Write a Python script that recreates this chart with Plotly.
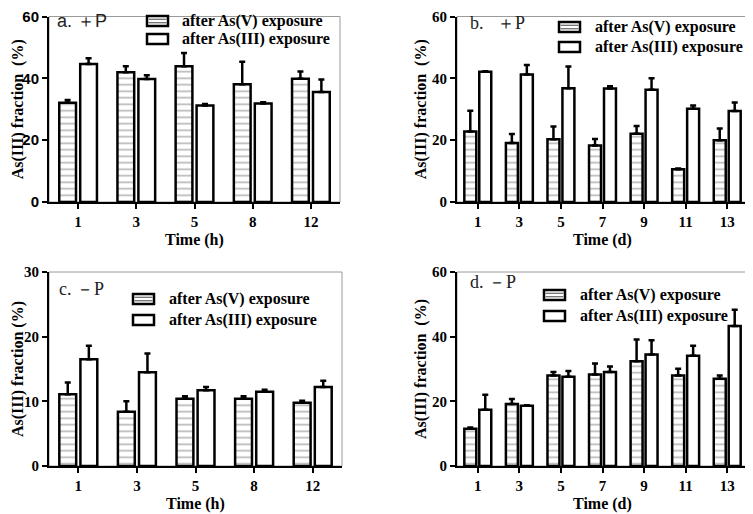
import plotly.graph_objects as go
from plotly.subplots import make_subplots

# the page body adds an 8px margin, so the figure is 8px smaller and all
# pixel positions below are given in window coordinates
OFF = 8
W, H = 753 - OFF, 514 - OFF


def px(x):
    return (x - OFF) / W


def py(y):
    return 1 - (y - OFF) / H


# categories
time_h = ["1", "3", "5", "8", "12"]
time_d = ["1", "3", "5", "7", "9", "11", "13"]

# a. +P, hours
a_asv = [32.1, 42.0, 43.9, 38.1, 39.9]
a_asv_err = [0.9, 1.9, 4.3, 7.3, 2.3]
a_as3 = [44.6, 39.8, 31.2, 31.9, 35.6]
a_as3_err = [1.9, 1.2, 0.5, 0.4, 4.0]

# b. +P, days
b_asv = [22.8, 19.1, 20.3, 18.3, 22.1, 10.6, 20.0]
b_asv_err = [6.7, 2.9, 4.1, 2.1, 2.5, 0.2, 3.8]
b_as3 = [42.1, 41.2, 36.8, 36.7, 36.3, 30.2, 29.4]
b_as3_err = [0.2, 3.1, 7.0, 0.7, 3.7, 1.0, 2.8]

# c. -P, hours
c_asv = [11.1, 8.4, 10.4, 10.4, 9.8]
c_asv_err = [1.8, 1.6, 0.4, 0.4, 0.3]
c_as3 = [16.5, 14.5, 11.7, 11.5, 12.2]
c_as3_err = [2.1, 2.9, 0.5, 0.3, 1.0]

# d. -P, days
d_asv = [11.5, 19.2, 28.0, 28.3, 32.4, 28.0, 27.0]
d_asv_err = [0.4, 1.5, 1.1, 3.4, 6.7, 2.1, 1.0]
d_as3 = [17.4, 18.6, 27.6, 29.1, 34.5, 34.1, 43.3]
d_as3_err = [4.6, 0.2, 1.8, 1.7, 4.4, 3.1, 5.0]

series_names = ["after As(V) exposure", "after As(III) exposure"]

SERIF = "Liberation Serif"
SANS = "Liberation Sans"
STRIPE = "#6e6e6e"

panels = [
    dict(x=time_h, v=a_asv, ve=a_asv_err, t=a_as3, te=a_as3_err, box=(49, 340, 16.5, 202),
         ymax=60, dtick=20, label="a. ＋P", label_font=SANS, label_xy=(55, 21),
         xtitle="Time (h)", ytitle="As(III) fraction  (%)", ytick_font=SANS, ytitle_x=18,
         leg=(147, 180, 21, 39)),
    dict(x=time_d, v=b_asv, ve=b_asv_err, t=b_as3, te=b_as3_err, box=(457, 748, 16.5, 202),
         ymax=60, dtick=20, label="b.   ＋P", label_font=SERIF, label_xy=(468, 23),
         xtitle="Time (d)", ytitle="As(III) fraction  (%)", ytick_font=SERIF, ytitle_x=421,
         leg=(559, 593, 27, 47)),
    dict(x=time_h, v=c_asv, ve=c_asv_err, t=c_as3, te=c_as3_err, box=(49, 342, 272, 466),
         ymax=30, dtick=10, label="c. －P", label_font=SERIF, label_xy=(57, 289),
         xtitle="Time (h)", ytitle="As(III) fraction (%)", ytick_font=SERIF, ytitle_x=18,
         leg=(133, 167, 299, 320)),
    dict(x=time_d, v=d_asv, ve=d_asv_err, t=d_as3, te=d_as3_err, box=(457, 748, 272, 466),
         ymax=60, dtick=20, label="d. －P", label_font=SERIF, label_xy=(468, 282),
         xtitle="Time (d)", ytitle="As(III) fraction  (%)", ytick_font=SERIF, ytitle_x=421,
         leg=(544, 578, 295, 316)),
]

fig = make_subplots(rows=2, cols=2)

annotations = []
shapes = []
for i, p in enumerate(panels):
    row, col = i // 2 + 1, i % 2 + 1
    n = len(p["x"])

    fig.add_trace(go.Bar(
        x=p["x"], y=p["v"], name=series_names[0], showlegend=False,
        marker=dict(color="white", line=dict(color="black", width=2.5),
                    pattern=dict(shape="-", fgcolor=STRIPE, bgcolor="white", size=6.5, solidity=0.25)),
        error_y=dict(type="data", symmetric=False, array=p["ve"], arrayminus=[0] * n,
                     color="black", thickness=2.5, width=3),
    ), row=row, col=col)
    fig.add_trace(go.Bar(
        x=p["x"], y=p["t"], name=series_names[1], showlegend=False,
        marker=dict(color="white", line=dict(color="black", width=2.5)),
        error_y=dict(type="data", symmetric=False, array=p["te"], arrayminus=[0] * n,
                     color="black", thickness=2.5, width=3),
    ), row=row, col=col)

    l, r, t, b = p["box"]
    fig.update_xaxes(domain=[px(l), px(r)], automargin=False, showline=True,
                     linecolor="black", linewidth=2,
                     ticks="outside", ticklen=5, tickwidth=2, tickcolor="black",
                     tickfont=dict(family=SERIF, size=15, color="black", weight="bold"),
                     showgrid=False, zeroline=False, row=row, col=col)
    fig.update_yaxes(domain=[py(b), py(t)], range=[0, p["ymax"]], dtick=p["dtick"],
                     automargin=False, ticklabeloverflow="allow",
                     showline=True, linecolor="black", linewidth=2,
                     ticks="outside", ticklen=5, tickwidth=2, tickcolor="black",
                     tickfont=dict(family=p["ytick_font"], size=15, color="black", weight="bold"),
                     showgrid=False, zeroline=False, row=row, col=col)

    xref = "x" if i == 0 else f"x{i + 1}"
    yref = "y" if i == 0 else f"y{i + 1}"
    # thin grey frame on top / right
    shapes.append(dict(type="rect", xref=f"{xref} domain", yref=f"{yref} domain",
                       x0=0, x1=1, y0=0, y1=1, line=dict(color="#9a9a9a", width=1), layer="below"))

    lx, ly = p["label_xy"]
    annotations.append(dict(text=p["label"], x=px(lx), y=py(ly), xref="paper", yref="paper",
                            xanchor="left", yanchor="middle", showarrow=False,
                            font=dict(family=p["label_font"], size=18, color="#222")))
    annotations.append(dict(text=p["xtitle"], x=px((l + r) / 2), y=py(b + 38),
                            xref="paper", yref="paper", xanchor="center", yanchor="middle",
                            showarrow=False,
                            font=dict(family=SERIF, size=16, color="black", weight="bold")))
    annotations.append(dict(text=p["ytitle"], x=px(p["ytitle_x"]), y=py((t + b) / 2),
                            xref="paper", yref="paper", xanchor="center", yanchor="middle",
                            textangle=-90, showarrow=False,
                            font=dict(family=SERIF, size=16, color="black", weight="bold")))

    # legend: wide boxed swatches like the original
    ix, tx, r1, r2 = p["leg"]
    for k, ry in enumerate((r1, r2)):
        shapes.append(dict(type="rect", xref="paper", yref="paper",
                           x0=px(ix), x1=px(ix + 21), y0=py(ry + 5), y1=py(ry - 5),
                           line=dict(color="black", width=2.5), fillcolor="white"))
        if k == 0:
            for sy in (ry - 1.7, ry + 1.7):
                shapes.append(dict(type="line", xref="paper", yref="paper",
                                   x0=px(ix + 1.5), x1=px(ix + 19.5), y0=py(sy), y1=py(sy),
                                   line=dict(color=STRIPE, width=1.3)))
        annotations.append(dict(text=series_names[k], x=px(tx), y=py(ry),
                                xref="paper", yref="paper", xanchor="left", yanchor="middle",
                                showarrow=False,
                                font=dict(family=SERIF, size=16, color="black", weight="bold")))

fig.update_layout(
    width=W, height=H,
    margin=dict(l=0, r=0, t=0, b=0),
    plot_bgcolor="white", paper_bgcolor="white",
    barmode="group", bargap=0.28, bargroupgap=0.2,
    showlegend=False,
    annotations=annotations,
    shapes=shapes,
)

fig.write_html("out.html")
